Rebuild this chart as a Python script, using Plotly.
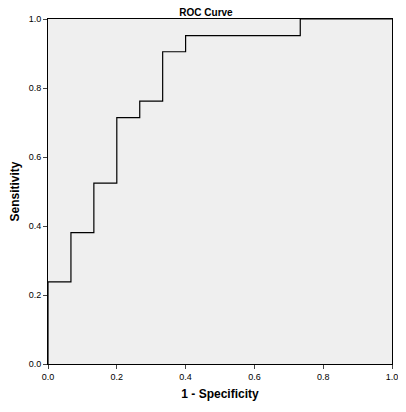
import plotly.graph_objects as go

fpr = [0.0, 0.0, 0.0667, 0.0667, 0.1333, 0.1333, 0.2, 0.2, 0.2667, 0.2667, 0.3333, 0.3333, 0.4, 0.4, 0.7333, 0.7333, 1.0]
tpr = [0.0, 0.238, 0.238, 0.381, 0.381, 0.524, 0.524, 0.714, 0.714, 0.762, 0.762, 0.905, 0.905, 0.952, 0.952, 1.0, 1.0]
ticks = [0.0, 0.2, 0.4, 0.6, 0.8, 1.0]
tick_labels = ["0.0", "0.2", "0.4", "0.6", "0.8", "1.0"]

fig = go.Figure(go.Scatter(x=fpr, y=tpr, mode="lines", line=dict(color="black", width=1.2), showlegend=False))
ax = dict(range=[0, 1], tickvals=ticks, ticktext=tick_labels, ticks="outside", ticklen=4,
          showgrid=False, zeroline=False, showline=True, linecolor="black", linewidth=1, mirror=True,
          tickfont=dict(size=9, family="Arial, Liberation Sans", color="black"))
fig.update_layout(
    width=396, height=396, margin=dict(l=40, r=6, t=9, b=37),
    paper_bgcolor="white", plot_bgcolor="#EFEFEF",
    title=dict(text="<b>ROC Curve</b>", x=0.5, xanchor="center", y=0.998, yanchor="top",
               font=dict(size=10, family="Arial, Liberation Sans", color="black")),
    xaxis=dict(ax, title=dict(text="<b>1 - Specificity</b>", font=dict(size=12, family="Arial, Liberation Sans", color="black"), standoff=8)),
    yaxis=dict(ax, title=dict(text="<b>Sensitivity</b>", font=dict(size=12, family="Arial, Liberation Sans", color="black"), standoff=6)),
)
fig.write_html("out.html")
